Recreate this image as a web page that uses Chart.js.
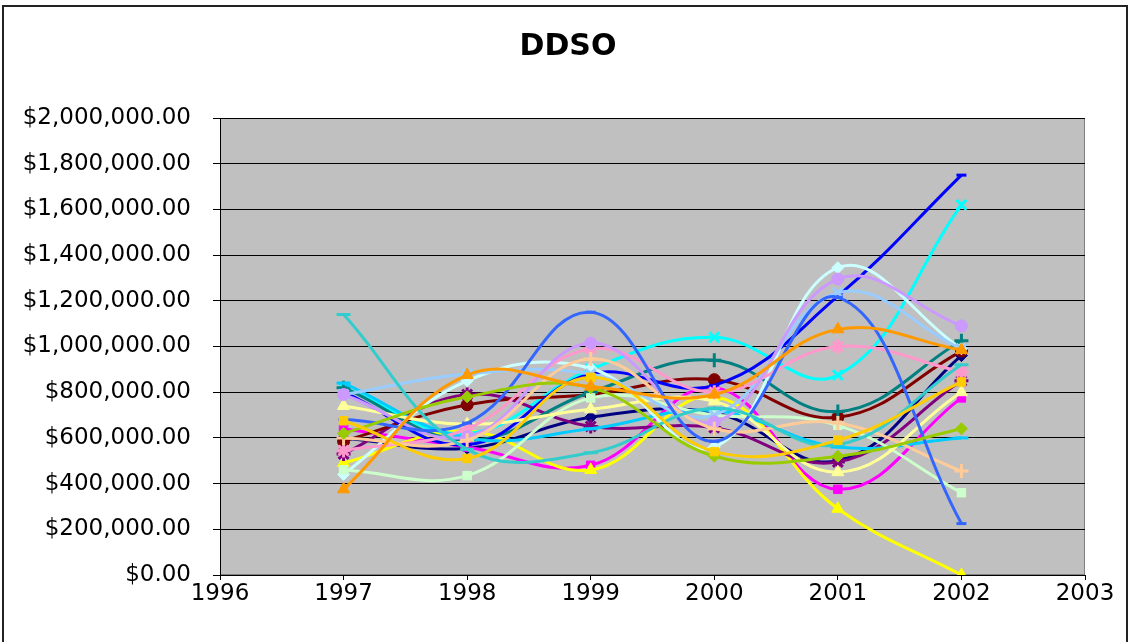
<!DOCTYPE html>
<html>
<head>
<meta charset="utf-8">
<title>DDSO</title>
<script src="https://cdn.jsdelivr.net/npm/chart.js@4/dist/chart.umd.min.js"></script>
<style>
  html, body { margin: 0; padding: 0; background: #fff; }
  #wrap { position: relative; width: 1130px; height: 642px; overflow: hidden; }
  #frame { position: absolute; left: 2px; top: 5px; width: 1122px; height: 660px; border: 2px solid #222; pointer-events: none; }
  canvas { position: absolute; left: 0; top: 0; }
</style>
</head>
<body>
<div id="wrap">
  <canvas id="ddsoChart" width="1130" height="642"></canvas>
  <div id="frame"></div>
</div>
<script>
// Years on the x axis
const years = [1997, 1998, 1999, 2000, 2001, 2002];

// Series values (dollars)
const navy       = [600000, 555000, 690000, 710000, 500000, 960000];
const magenta    = [640000, 560000, 480000, 820000, 375000, 775000];
const yellow     = [490000, 630000, 460000, 780000, 290000, 0];
const cyan       = [820000, 620000, 900000, 1040000, 875000, 1620000];
const purple     = [530000, 790000, 650000, 645000, 495000, 850000];
const maroon     = [585000, 745000, 790000, 855000, 690000, 980000];
const teal       = [820000, 590000, 800000, 940000, 715000, 1025000];
const blue       = [800000, 570000, 880000, 830000, 1220000, 1750000];
const skyBlue    = [840000, 600000, 640000, 720000, 560000, 600000];
const turquoise  = [440000, 850000, 905000, 560000, 1345000, 990000];
const lightGreen = [460000, 435000, 775000, 700000, 655000, 360000];
const lightYellow= [740000, 660000, 725000, 760000, 450000, 800000];
const paleBlue   = [790000, 880000, 880000, 700000, 1235000, 990000];
const rose       = [545000, 640000, 990000, 800000, 1000000, 890000];
const lavender   = [790000, 605000, 1015000, 670000, 1295000, 1090000];
const tan        = [600000, 590000, 945000, 640000, 665000, 455000];
const royalBlue  = [680000, 665000, 1150000, 585000, 1215000, 225000];
const aqua       = [1140000, 550000, 535000, 730000, 570000, 920000];
const lime       = [620000, 780000, 820000, 520000, 520000, 640000];
const gold       = [675000, 510000, 865000, 540000, 590000, 845000];
const orange     = [375000, 875000, 825000, 790000, 1075000, 985000];

// Axis ticks
const yMax = 2000000;
const yStep = 200000;
const xMin = 1996;
const xMax = 2003;

// colour, marker, marker radius for each series, in Excel order
const seriesList = [
    [navy, '#000080', 'rectRot', 6],
    [magenta, '#FF00FF', 'rect', 6],
    [yellow, '#FFFF00', 'triangle', 7],
    [cyan, '#00FFFF', 'crossRot', 7],
    [purple, '#800080', 'star', 7],
    [maroon, '#800000', 'circle', 6],
    [teal, '#008080', 'cross', 7],
    [blue, '#0000FF', 'line', 5],
    [skyBlue, '#00CCFF', 'line', 7],
    [turquoise, '#CCFFFF', 'rectRot', 6],
    [lightGreen, '#CCFFCC', 'rect', 6],
    [lightYellow, '#FFFF99', 'triangle', 7],
    [paleBlue, '#99CCFF', 'crossRot', 7],
    [rose, '#FF99CC', 'star', 7],
    [lavender, '#CC99FF', 'circle', 6],
    [tan, '#FFCC99', 'cross', 7],
    [royalBlue, '#3366FF', 'line', 5],
    [aqua, '#33CCCC', 'line', 7],
    [lime, '#99CC00', 'rectRot', 6],
    [gold, '#FFCC00', 'rect', 6],
    [orange, '#FF9900', 'triangle', 7]
];

const datasets = seriesList.map((s, i) => ({
    label: 'Series' + (i + 1),
    data: years.map((yr, j) => ({ x: yr, y: s[0][j] })),
    borderColor: s[1],
    backgroundColor: s[1],
    pointBackgroundColor: s[1],
    pointBorderColor: s[1],
    pointStyle: s[2],
    pointRadius: s[3],
    pointBorderWidth: (s[2] === 'line' || s[2].startsWith('cross') || s[2] === 'star') ? 3 : 1,
    borderWidth: 3,
    tension: 0.4,
    fill: false,
    order: seriesList.length - i
}));

// grey plot area
const plotBackground = {
    id: 'plotBackground',
    beforeDraw(chart) {
        const { ctx, chartArea: a } = chart;
        ctx.save();
        ctx.fillStyle = '#C0C0C0';
        ctx.fillRect(a.left, a.top, a.right - a.left, a.bottom - a.top);
        ctx.strokeStyle = '#808080';
        ctx.lineWidth = 1;
        ctx.strokeRect(a.left + 0.5, a.top + 0.5, a.right - a.left - 1, a.bottom - a.top - 1);
        ctx.restore();
    }
};

const fontFamily = '"DejaVu Sans", Verdana, sans-serif';

const ddsoChart = new Chart(document.getElementById('ddsoChart'), {
    type: 'line',
    data: { datasets: datasets },
    options: {
        responsive: false,
        animation: false,
        layout: { padding: { left: 6, right: 0, top: 0, bottom: 0 } },
        plugins: {
            legend: { display: false },
            tooltip: { enabled: false },
            title: {
                display: true,
                text: 'DDSO',
                color: '#000',
                font: { family: fontFamily, size: 30, weight: 'bold' },
                padding: { top: 29, bottom: 53 }
            }
        },
        scales: {
            x: {
                type: 'linear',
                min: xMin,
                max: xMax,
                afterFit(scale) { scale.height = 67; },
                ticks: {
                    stepSize: 1,
                    color: '#000',
                    padding: 0,
                    font: { family: fontFamily, size: 23 },
                    callback: v => String(v)
                },
                grid: { drawOnChartArea: false, drawTicks: true, tickLength: 5, color: '#000', lineWidth: 1 },
                border: { color: '#000', width: 1 }
            },
            y: {
                min: 0,
                max: yMax,
                afterFit(scale) { scale.width = 214; },
                ticks: {
                    stepSize: yStep,
                    color: '#000',
                    padding: 22,
                    font: { family: fontFamily, size: 23 },
                    callback: v => '$' + v.toLocaleString('en-US', { minimumFractionDigits: 2, maximumFractionDigits: 2 })
                },
                grid: { color: '#000', lineWidth: 1, tickLength: 7 },
                border: { color: '#000', width: 1 }
            },
            // empty spacer on the right so the title stays centred on the page
            spacer: {
                type: 'linear',
                position: 'right',
                min: 0,
                max: 1,
                afterFit(scale) { scale.width = 45; },
                ticks: { display: false },
                grid: { display: false, drawTicks: false },
                border: { display: false }
            }
        }
    },
    plugins: [plotBackground]
});
</script>
</body>
</html>
